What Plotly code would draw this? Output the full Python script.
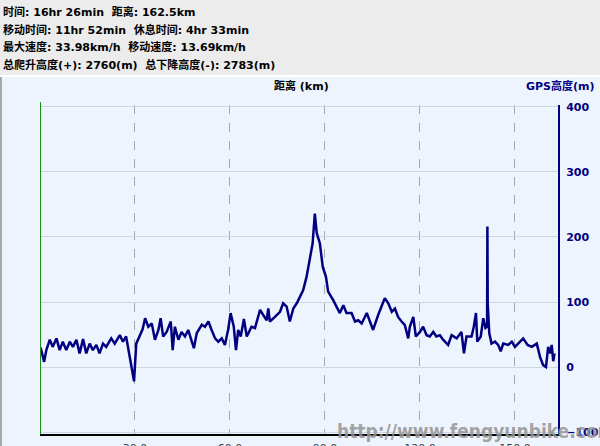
import plotly.graph_objects as go

# Elevation profile
dist_km = [0.1, 0.4, 1.3, 2.0, 3.1, 4.0, 5.2, 6.2, 7.2, 8.3, 9.4, 10.4, 11.5, 12.5, 13.6, 14.6,
           15.7, 16.7, 17.8, 18.8, 19.9, 20.9, 22.5, 23.6, 25.2, 26.2, 27.2, 28.0, 28.8, 29.7,
           30.4, 31.5, 32.4, 33.2, 34.2, 35.3, 36.3, 37.4, 38.1, 38.9, 40.0, 41.3, 41.9, 42.6,
           43.7, 44.7, 45.8, 46.8, 47.9, 48.6, 49.5, 51.1, 52.1, 53.2, 54.2, 55.3, 56.3, 57.4,
           58.4, 59.4, 60.2, 61.2, 61.9, 62.6, 63.4, 64.4, 65.3, 66.8, 67.9, 69.5, 70.5, 71.6,
           72.1, 72.6, 74.2, 75.8, 76.8, 77.9, 78.9, 80.0, 81.1, 82.1, 83.1, 84.2, 85.3, 86.1,
           86.8, 87.4, 88.4, 89.3, 90.3, 91.0, 92.6, 93.7, 94.7, 95.8, 96.8, 98.4, 99.5, 100.5,
           101.6, 103.2, 104.2, 105.2, 106.8, 107.9, 108.9, 110.0, 111.1, 112.1, 113.1, 114.2,
           115.2, 116.3, 116.8, 117.9, 118.7, 120.0, 121.0, 122.1, 123.1, 124.2, 125.2, 126.3,
           127.3, 128.9, 130.0, 131.6, 133.1, 133.9, 134.7, 136.3, 137.0, 137.7, 138.1, 139.2,
           140.0, 140.7, 141.2, 141.3, 141.4, 141.9, 142.6, 143.7, 144.7, 145.5, 146.3, 147.9,
           149.0, 150.0, 151.1, 152.6, 154.0, 155.3, 156.9, 157.9, 158.9, 159.8, 160.5, 161.2,
           161.6, 162.1, 162.5]
elev_m = [30, 26, 8, 26, 42, 31, 44, 26, 39, 26, 39, 31, 42, 21, 43, 21,
          36, 26, 34, 21, 36, 31, 44, 36, 49, 39, 47, 26, 6, -22,
          36, 49, 58, 75, 62, 67, 42, 57, 75, 47, 54, 70, 26, 62,
          42, 54, 47, 57, 42, 29, 52, 65, 62, 70, 57, 44, 39, 44,
          34, 57, 83, 62, 26, 57, 47, 74, 47, 62, 60, 88, 80, 72,
          90, 70, 77, 85, 98, 93, 70, 90, 98, 108, 118, 139, 172, 190,
          236, 206, 190, 154, 139, 116, 103, 93, 83, 95, 83, 83, 70, 72,
          67, 83, 70, 57, 80, 93, 106, 98, 85, 90, 77, 70,
          65, 44, 62, 77, 47, 54, 62, 49, 47, 54, 47, 49,
          42, 34, 49, 44, 54, 21, 47, 47, 62, 83, 39, 47,
          75, 60, 62, 216, 98, 52, 36, 39, 34, 24, 36, 34,
          39, 31, 36, 44, 34, 31, 36, 16, 3, 0, 31, 21,
          34, 9, 21]

x_ticks = [30, 60, 90, 120, 150]
y_ticks = [-100, 0, 100, 200, 300, 400]

header_lines = [
    "时间: 16hr 26min  距离: 162.5km",
    "移动时间: 11hr 52min  休息时间: 4hr 33min",
    "最大速度: 33.98km/h  移动速度: 13.69km/h",
    "总爬升高度(+): 2760(m)  总下降高度(-): 2783(m)",
]

FONT = "DejaVu Sans, Noto Sans CJK SC, sans-serif"
NAVY = "#000080"
BG = "#EEF4FD"

fig = go.Figure()
fig.add_trace(go.Scatter(x=dist_km, y=elev_m, mode="lines",
                         line=dict(color=NAVY, width=2.5), hoverinfo="skip"))

W, H = 600, 446
ml, mr, mt, mb = 40, 42, 105, 12
ph = H - mt - mb
pw = W - ml - mr

def py(r):  # window pixel y -> paper y
    return (H - mb - r) / ph

def px(r):  # window pixel x -> paper x
    return (r - ml) / pw

shapes = [
    dict(type="rect", xref="paper", yref="paper", x0=px(0), x1=px(600), y0=py(75), y1=py(0),
         fillcolor="#ECECEC", line=dict(width=0), layer="below"),
    dict(type="line", xref="paper", yref="paper", x0=px(0), x1=px(600), y0=py(76), y1=py(76),
         line=dict(color="#FFFFFF", width=2)),
    dict(type="line", xref="x", yref="paper", x0=0, x1=0, y0=0, y1=py(102),
         line=dict(color="#1E8C1E", width=2)),
    dict(type="line", xref="paper", yref="paper", x0=px(1), x1=px(1), y0=py(446), y1=py(77),
         line=dict(color="#A8A8A8", width=2)),
]

annotations = []
for i, t in enumerate(header_lines):
    annotations.append(dict(text="<b>" + t + "</b>", xref="paper", yref="paper",
                            x=px(1), y=py(3 + 17.5 * i), xanchor="left", yanchor="top",
                            showarrow=False, font=dict(family=FONT, size=11, color="#000000")))
annotations.append(dict(text="<b>距离 (km)</b>", xref="paper", yref="paper", x=px(301), y=py(86),
                        xanchor="center", yanchor="middle", showarrow=False,
                        font=dict(family=FONT, size=11, color="#000000")))
annotations.append(dict(text="<b>GPS高度(m)</b>", xref="paper", yref="paper", x=px(597), y=py(86),
                        xanchor="right", yanchor="middle", showarrow=False,
                        font=dict(family=FONT, size=11, color=NAVY)))
annotations.append(dict(text="<b>http://www.fengyunbike.com</b>", xref="paper", yref="paper",
                        x=px(335), y=py(431), xanchor="left", yanchor="middle", showarrow=False,
                        opacity=0.85,
                        font=dict(family="DejaVu Sans Condensed, DejaVu Sans",
                                  size=19, color="#959595")))

fig.update_layout(
    width=W, height=H,
    margin=dict(l=ml, r=mr, t=mt, b=mb, autoexpand=False),
    paper_bgcolor=BG, plot_bgcolor=BG,
    showlegend=False,
    shapes=shapes, annotations=annotations,
    xaxis=dict(range=[0, 163.6], tickvals=x_ticks, ticktext=[f"{v:.1f}" for v in x_ticks],
               automargin=False,
               showgrid=True, gridcolor="#A8A8A8", griddash="dash", gridwidth=1,
               showline=True, linecolor="#000000", linewidth=2, zeroline=False,
               ticks="", ticklabelstandoff=3,
               tickfont=dict(family=FONT, size=11, color="#404040"), fixedrange=True),
    yaxis=dict(range=[-103, 403], side="right", tickvals=y_ticks,
               automargin=False,
               showgrid=True, gridcolor="#CDD5E0", gridwidth=1,
               showline=True, linecolor=NAVY, linewidth=2, zeroline=False,
               ticks="", ticklabelstandoff=4,
               tickfont=dict(family=FONT, size=11, color=NAVY, weight="bold"), fixedrange=True),
)

fig.write_html("out.html", config={"displayModeBar": False},
               post_script="document.body.style.margin='0';document.body.style.overflow='hidden';")
